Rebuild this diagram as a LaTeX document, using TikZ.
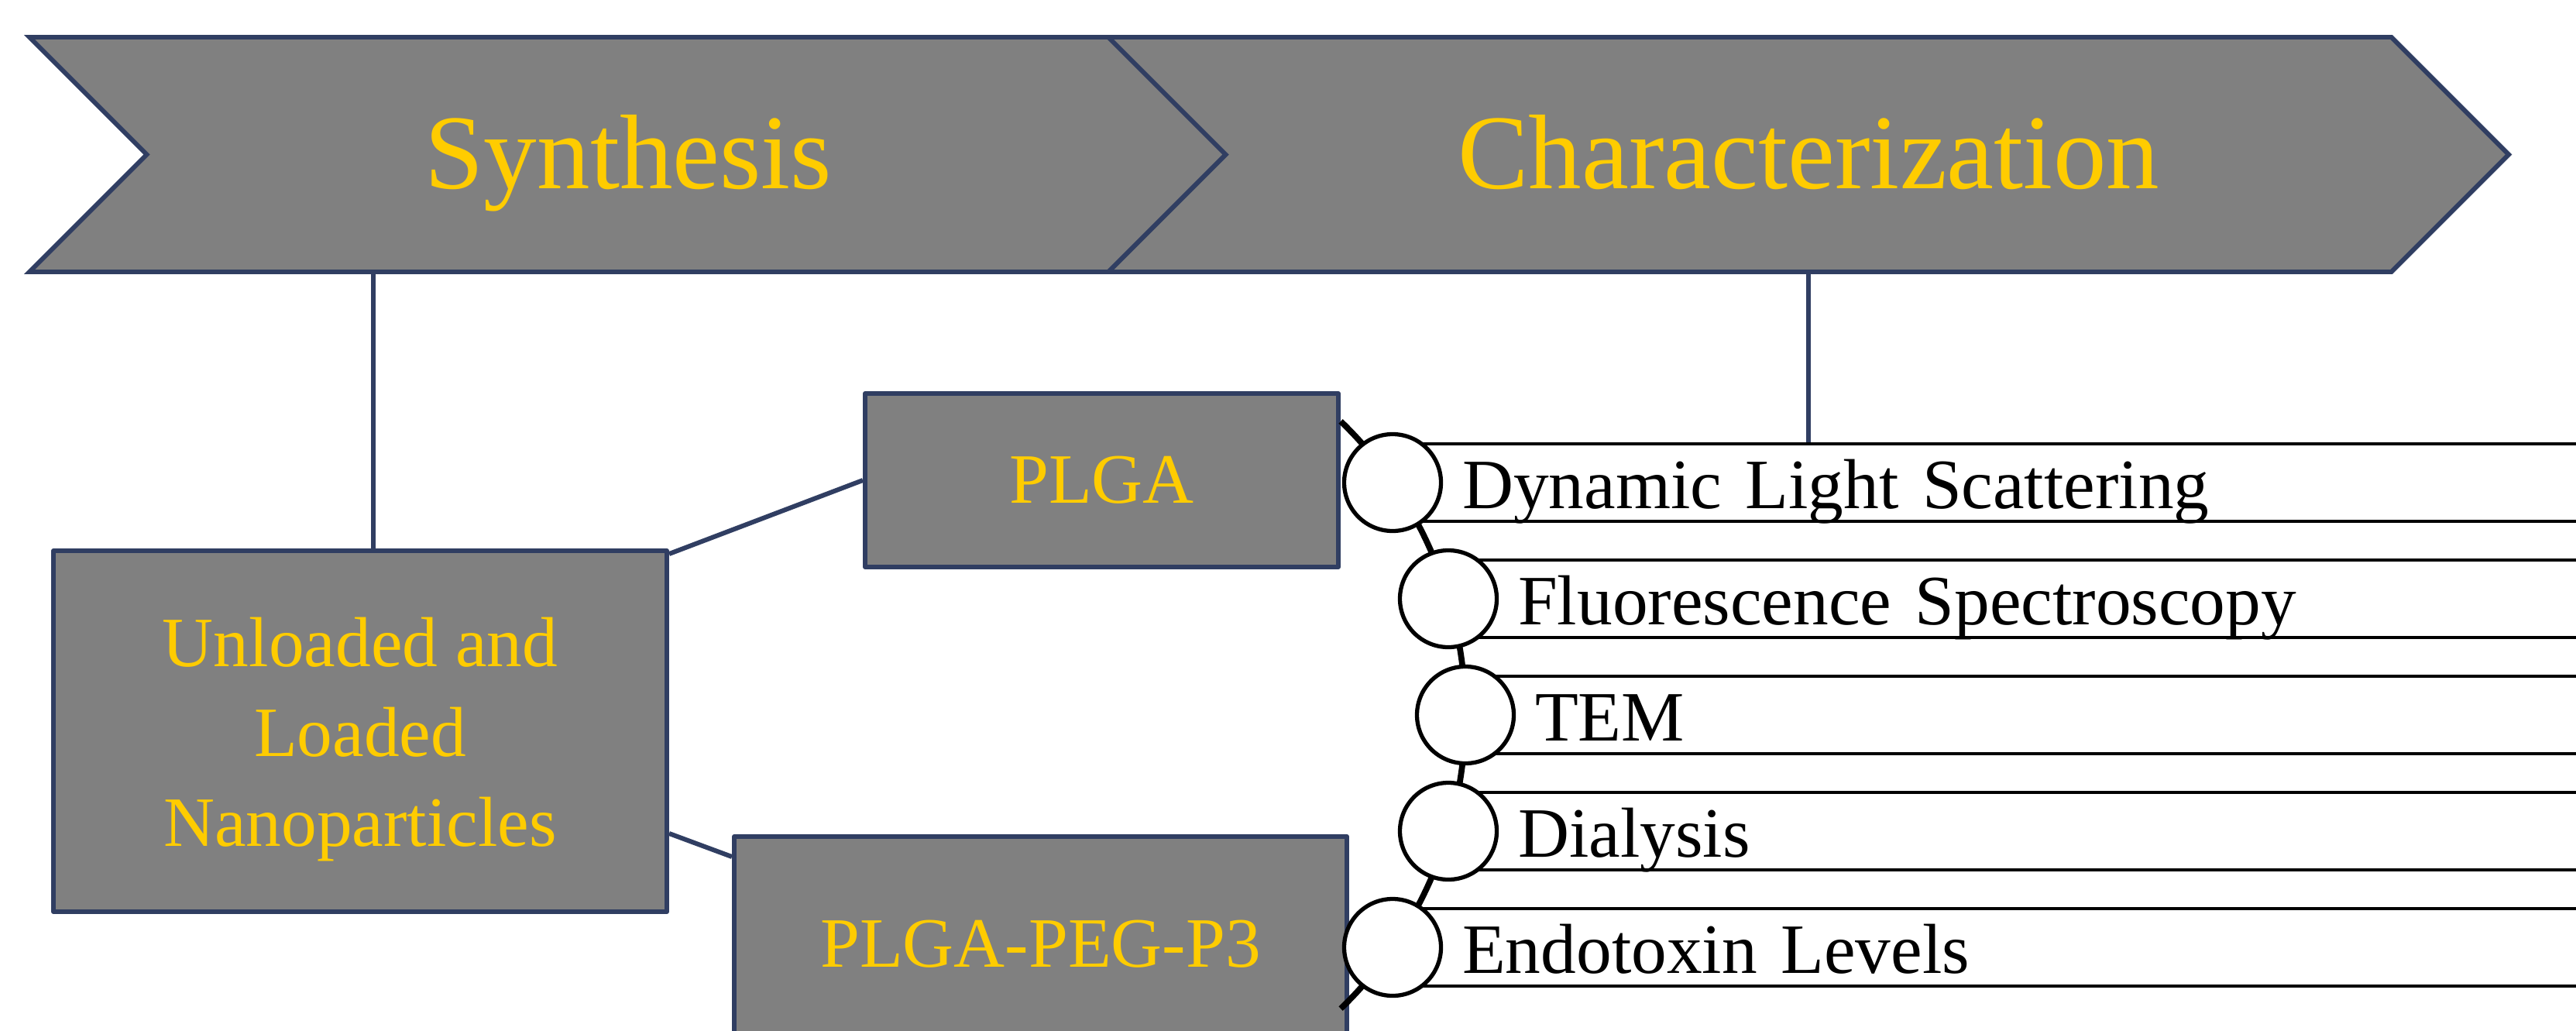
\documentclass[tikz,border=0pt]{standalone}
\usepackage{fontspec}
\setmainfont{Liberation Serif}
\usetikzlibrary{shapes.symbols, positioning, calc}
\definecolor{navy}{RGB}{48, 62, 98}
\definecolor{gold}{RGB}{255, 204, 0}
\definecolor{grisfondo}{RGB}{128, 128, 128}

\begin{document}
\begin{tikzpicture}[
                flecha/.style={
                    signal,
                    signal from=west,
                    signal to=east,
                    signal pointer angle=90,
                    fill=grisfondo,
                    draw=navy,
                    line width=1.7pt,
                    minimum height=3.03cm,
                    inner sep=0pt,
                    text height=32.8pt,
                    text depth=8pt,
                    text=gold,
                    font=\fontsize{39}{47}\selectfont
                },
                caja/.style={
                    rectangle,
                    fill=grisfondo,
                    draw=navy,
                    line width=1.7pt,
                    line join=round,
                    text=gold,
                    align=center,
                    font=\fontsize{26}{33}\selectfont
                },
                enlace/.style={draw=navy, line width=1.7pt},
                banda/.style={
                    rectangle,
                    draw=black,
                    fill=white,
                    line width=1.2pt,
                    minimum height=1cm,
                    text width=14cm,
                    text height=22pt,
                    text depth=3.2pt,
                    align=left,
                    inner xsep=0.88cm,
                    inner ysep=0pt,
                    anchor=west,
                    font=\fontsize{26}{32}\selectfont
                },
                punto/.style={
                    circle,
                    draw=black,
                    fill=white,
                    line width=1.5pt,
                    minimum size=1.25cm,
                    inner sep=0pt
                },
                espina/.style={draw=black, line width=2.2pt}
            ]
                \useasboundingbox (0,0) rectangle (33.26,-13.30);
                \clip (0,0) rectangle (33.26,-13.30);

                \node[flecha, minimum width=15.47cm] (synth) at (8.115,-1.995) {Synthesis};
                \node[flecha, minimum width=18.08cm] (charac) at (23.35,-1.995) {Characterization};

                \node[caja, minimum width=7.92cm, minimum height=4.66cm] (np) at (4.65,-9.44) {\rule{0pt}{24pt}Unloaded and\\Loaded\\Nanoparticles};
                \node[caja, minimum width=6.11cm, minimum height=2.24cm] (plga) at (14.225,-6.20) {PLGA};
                \node[caja, minimum width=7.91cm, minimum height=2.78cm] (peg) at (13.435,-12.19) {PLGA-PEG-P3};

                \draw[enlace] ([xshift=0.17cm]np.north) -- ([xshift=0.17cm]np.north |- synth.south);
                \draw[enlace] ([yshift=-0.07cm]np.north east) -- (plga.west);
                \draw[enlace] ([yshift=1.04cm]np.south east) -- ([yshift=-0.29cm]peg.north west);

                \coordinate (eje) at (13.65,-9.23);
                \draw[espina] ([shift={(46:5.27)}]eje) arc[start angle=46, end angle=-46, radius=5.27];

                \node[banda] (dls) at (17.98,-6.23) {Dynamic Light Scattering};
                \node[banda] (fluo) at (18.70,-7.73) {Fluorescence Spectroscopy};
                \node[banda] (tem) at (18.92,-9.23) {TEM};
                \node[banda] (dial) at (18.70,-10.73) {Dialysis};
                \node[banda] (endo) at (17.98,-12.23) {Endotoxin Levels};

                \node[punto] (p1) at (dls.west) {};
                \node[punto] (p2) at (fluo.west) {};
                \node[punto] (p3) at (tem.west) {};
                \node[punto] (p4) at (dial.west) {};
                \node[punto] (p5) at (endo.west) {};

                \draw[enlace] (charac.south) -- (charac.south |- dls.north);
            \end{tikzpicture}
\end{document}
